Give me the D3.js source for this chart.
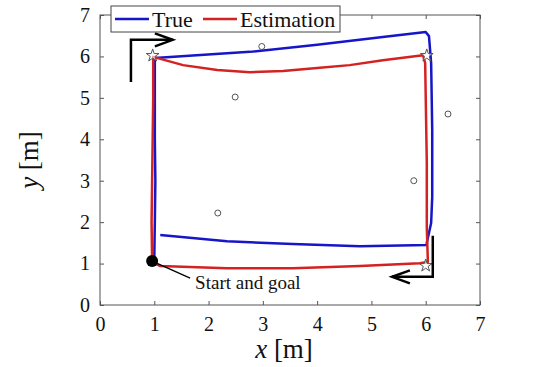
<!DOCTYPE html>
<html>
<head>
<meta charset="utf-8">
<script src="https://cdn.jsdelivr.net/npm/d3@7"></script>
<style>
  body { margin: 0; background: #fff; }
  text { font-family: "Liberation Serif", "Times New Roman", serif; fill: #111; }
</style>
</head>
<body>
<div id="chart"></div>
<script>
// true trajectory [x, y] in metres
var trueX = [1.00, 1.01, 1.02, 1.01, 1.01, 1.01, 2.76, 4.00, 5.21, 6.00, 6.06, 6.10, 6.12, 6.12, 6.10, 6.02, 6.02, 4.79, 3.55, 2.34, 1.11];
var trueY = [1.10, 2.00, 3.00, 4.00, 5.00, 5.96, 6.11, 6.28, 6.47, 6.59, 6.49, 5.84, 4.22, 2.61, 1.98, 1.50, 1.45, 1.42, 1.47, 1.54, 1.69];
// estimated trajectory
var estX = [0.96, 0.95, 0.96, 0.97, 0.98, 0.98, 1.53, 2.16, 2.76, 3.37, 4.00, 4.60, 5.21, 5.95, 5.99, 6.02, 6.02, 6.04, 5.89, 4.79, 3.55, 2.34, 1.11, 0.96];
var estY = [1.06, 2.00, 3.00, 4.00, 5.00, 5.99, 5.79, 5.67, 5.62, 5.65, 5.72, 5.79, 5.91, 6.03, 5.84, 3.43, 1.88, 1.04, 1.01, 0.94, 0.89, 0.89, 0.94, 1.04];
// landmarks
var lmX = [2.98, 2.49, 6.41, 5.78, 2.17];
var lmY = [6.24, 5.02, 4.61, 3.00, 2.22];
// waypoints (stars)
var wpX = [0.97, 6.02, 6.00];
var wpY = [6.02, 6.02, 0.95];
var startPt = [0.96, 1.06];
var startLabel = "Start and goal";
// direction arrows
var arrow1 = [[0.57, 5.38], [0.57, 6.40], [1.34, 6.40]];
var arrow2 = [[6.13, 1.67], [6.13, 0.68], [5.38, 0.68]];
var ticks = [0, 1, 2, 3, 4, 5, 6, 7];
var seriesNames = ["True", "Estimation"];
var seriesColors = ["#1616c8", "#d42222"];

var W = 539, H = 367;
var margin = { top: 15, right: 59, bottom: 62, left: 100 },
    width = W - margin.left - margin.right,
    height = H - margin.top - margin.bottom;

var x = d3.scaleLinear().domain([0, 7]).range([0, width]);
var y = d3.scaleLinear().domain([0, 7]).range([height, 0]);

var svg = d3.select("#chart").append("svg")
    .attr("width", W).attr("height", H)
  .append("g")
    .attr("transform", "translate(" + margin.left + "," + margin.top + ")");

// Axes (matlab style, inward ticks all around)
var axColor = "#555";
var fmt = d3.format("d");
function styleAxis(g) {
  g.attr("font-family", null);
  g.select(".domain").remove();
  g.selectAll(".tick line").attr("stroke", axColor);
  g.selectAll(".tick text").style("font-size", "20px").attr("fill", "#222");
}
svg.append("g").attr("transform", "translate(0," + height + ")")
  .call(d3.axisBottom(x).tickValues(ticks).tickFormat(fmt).tickSizeInner(-4).tickSizeOuter(0).tickPadding(12))
  .call(styleAxis);
svg.append("g")
  .call(d3.axisLeft(y).tickValues(ticks).tickFormat(fmt).tickSizeInner(-4).tickSizeOuter(0).tickPadding(10))
  .call(styleAxis);
svg.append("g").attr("transform", "translate(0,0)")
  .call(d3.axisTop(x).tickValues(ticks).tickSizeInner(-4).tickSizeOuter(0).tickFormat(""))
  .call(styleAxis);
svg.append("g").attr("transform", "translate(" + width + ",0)")
  .call(d3.axisRight(y).tickValues(ticks).tickSizeInner(-4).tickSizeOuter(0).tickFormat(""))
  .call(styleAxis);
svg.append("rect")
  .attr("width", width).attr("height", height)
  .attr("fill", "none").attr("stroke", axColor).attr("stroke-width", 1);

// Labels
var xl = svg.append("text")
  .attr("text-anchor", "middle")
  .attr("x", width / 2 - 6).attr("y", height + 53)
  .style("font-size", "27px");
xl.append("tspan").style("font-style", "italic").text("x");
xl.append("tspan").text(" [m]");

var yl = svg.append("text")
  .attr("text-anchor", "middle")
  .attr("transform", "translate(" + (-62) + "," + (height / 2) + ")rotate(-90)")
  .style("font-size", "27px");
yl.append("tspan").style("font-style", "italic").text("y");
yl.append("tspan").text(" [m]");

// Data lines
var line = d3.line()
  .x(function(d) { return x(d[0]); })
  .y(function(d) { return y(d[1]); });

svg.append("path")
  .datum(d3.zip(trueX, trueY))
  .attr("fill", "none").attr("stroke", seriesColors[0]).attr("stroke-width", 2.5)
  .attr("stroke-linejoin", "round")
  .attr("d", line);
svg.append("path")
  .datum(d3.zip(estX, estY))
  .attr("fill", "none").attr("stroke", seriesColors[1]).attr("stroke-width", 2.5)
  .attr("stroke-linejoin", "round")
  .attr("d", line);

// landmarks
svg.selectAll(".lm").data(d3.zip(lmX, lmY)).enter().append("circle")
  .attr("cx", function(d) { return x(d[0]); })
  .attr("cy", function(d) { return y(d[1]); })
  .attr("r", 3)
  .attr("fill", "none").attr("stroke", "#555").attr("stroke-width", 1);

// waypoints
var star = d3.symbol().type(d3.symbolStar).size(50);
svg.selectAll(".wp").data(d3.zip(wpX, wpY)).enter().append("path")
  .attr("d", star)
  .attr("transform", function(d) { return "translate(" + x(d[0]) + "," + y(d[1]) + ")"; })
  .attr("fill", "#fff").attr("fill-opacity", 0.6).attr("stroke", "#555").attr("stroke-width", 1);

// arrows
var straight = d3.line().x(function(d) { return x(d[0]); }).y(function(d) { return y(d[1]); });
[arrow1, arrow2].forEach(function(a) {
  svg.append("path").datum(a).attr("d", straight)
    .attr("fill", "none").attr("stroke", "#000").attr("stroke-width", 2.5);
  var tip = a[a.length - 1], prev = a[a.length - 2];
  var tx = x(tip[0]), ty = y(tip[1]);
  var ang = Math.atan2(ty - y(prev[1]), tx - x(prev[0]));
  var L = 19, s = 0.35;
  var p1 = [tx - L * Math.cos(ang - s), ty - L * Math.sin(ang - s)];
  var p2 = [tx - L * Math.cos(ang + s), ty - L * Math.sin(ang + s)];
  svg.append("path").attr("d", "M" + p1 + "L" + tx + "," + ty + "L" + p2)
    .attr("fill", "none").attr("stroke", "#000").attr("stroke-width", 2.5);
});

// start / goal
svg.append("line")
  .attr("x1", x(startPt[0])).attr("y1", y(startPt[1]))
  .attr("x2", x(startPt[0]) + 38).attr("y2", y(startPt[1]) + 17)
  .attr("stroke", "#000").attr("stroke-width", 1.3);
svg.append("circle")
  .attr("cx", x(startPt[0])).attr("cy", y(startPt[1])).attr("r", 6)
  .attr("fill", "#000");
svg.append("text")
  .attr("x", x(startPt[0]) + 43).attr("y", y(startPt[1]) + 28)
  .style("font-size", "19px")
  .text(startLabel);

// Legend
var lg = svg.append("g").attr("transform", "translate(11,-9)");
lg.append("rect").attr("width", 229).attr("height", 26)
  .attr("fill", "#fff").attr("stroke", "#444").attr("stroke-width", 1);
var offs = [[4, 52], [92, 140]];
seriesNames.forEach(function(n, i) {
  lg.append("line").attr("x1", offs[i][0]).attr("x2", offs[i][0] + 34)
    .attr("y1", 13).attr("y2", 13)
    .attr("stroke", seriesColors[i]).attr("stroke-width", 2.5);
  lg.append("text").attr("x", offs[i][0] + 37).attr("y", 21)
    .style("font-size", "22px").text(n);
});
</script>
</body>
</html>
